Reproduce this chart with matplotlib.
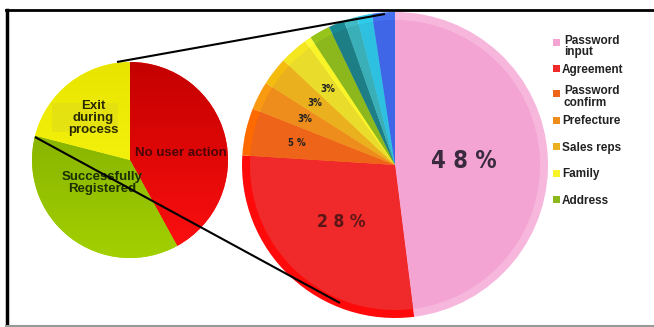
import numpy as np
import matplotlib
matplotlib.use("Agg")
import matplotlib.pyplot as plt
from matplotlib.colors import LinearSegmentedColormap
from matplotlib.patches import Rectangle

# Overall outcome of the registration flow
outcome_labels = ["No user action", "Successfully\nRegistered", "Exit\nduring\nprocess"]
outcome_values = [42, 37, 21]
outcome_top = ["#c40000", "#7aa400", "#e8e400"]
outcome_bottom = ["#ff1010", "#a2d000", "#ffff18"]

# Breakdown of the step where users exited
step_names = ["Password input", "Agreement", "Password confirm", "Prefecture",
              "Sales reps", "Family", "Other", "Address", "Phone", "Email",
              "Name", "Birthday"]
step_values = [48, 28, 5, 3, 3, 3, 0.7, 2.2, 1.7, 1.4, 1.6, 2.4]
step_labels = ["48%", "28%", "5%", "3%", "3%", "3%", "", "", "", "", "", ""]
step_colors = ["#f4a4d2", "#f02a2a", "#ee6418", "#ee8c1c", "#ebb01e",
               "#eadc2a", "#f8f428", "#8cb81e", "#1e7e86", "#3aafb8",
               "#2ec0e0", "#3f66e6"]
rim_colors = ["#f7b6dc", "#ff0a0a", "#ff6a00", "#f99a10", "#f5bc10",
              "#f4e620", "#fcfa30", "#96c41a", "#1a8a92", "#40bac4",
              "#30cbea", "#4470f0"]
legend_names = ["Password\ninput", "Agreement", "Password\nconfirm", "Prefecture",
                "Sales reps", "Family", "Address"]

W, H = 654, 327
fig = plt.figure(figsize=(W / 100, H / 100), dpi=100)
ax = fig.add_axes([0, 0, 1, 1])


def py(y):
    """Convert a top-down pixel row into the y-up data coordinate."""
    return H - y


# ---- small pie with gradient fills ----
sc = (130, py(160))
sr = 98
wedges, _ = ax.pie(outcome_values, startangle=90, counterclock=False,
                   center=sc, radius=sr, frame=True,
                   colors=outcome_bottom, wedgeprops=dict(linewidth=0))
grad = np.linspace(0, 1, 256).reshape(-1, 1)
for w, c0, c1 in zip(wedges, outcome_top, outcome_bottom):
    cmap = LinearSegmentedColormap.from_list("g", [c1, c0])
    im = ax.imshow(grad, cmap=cmap, aspect="auto", origin="lower",
                   extent=[sc[0] - sr, sc[0] + sr, sc[1] - sr, sc[1] + sr],
                   zorder=1.5)
    im.set_clip_path(w)

ax.add_patch(Rectangle((52, py(132)), 66, 29, facecolor="#dcd820", alpha=0.45,
                       linewidth=0, zorder=1.6))
txt_kw = dict(fontsize=9.5, fontweight="bold", family="Liberation Sans",
              linespacing=1.0, zorder=3)
ax.text(93, py(118), outcome_labels[2], ha="center", va="center",
        color="#2a2a00", **txt_kw)
ax.text(135, py(153), outcome_labels[0], ha="left", va="center",
        color="#4a0505", **txt_kw)
ax.text(102, py(183), outcome_labels[1], ha="center", va="center",
        color="#1c3000", **txt_kw)

# ---- large breakdown pie with a rim ----
bc = (395, py(165))
br = 153
ax.pie(step_values, startangle=90, counterclock=False, center=bc, radius=br,
       colors=rim_colors, frame=True, wedgeprops=dict(linewidth=0))
ax.pie(step_values, startangle=90, counterclock=False, center=bc, radius=br - 8,
       colors=step_colors, frame=True, wedgeprops=dict(linewidth=0))

total = sum(step_values)
cum = np.cumsum([0] + step_values[:-1])
label_style = {
    0: dict(r=0.45, size=17, color="#3a2a3e"),
    1: dict(r=0.51, size=12.5, color="#5a1616"),
}
for i, (v, lab) in enumerate(zip(step_values, step_labels)):
    if not lab:
        continue
    mid = np.deg2rad((cum[i] + v / 2) / total * 360)
    st = label_style.get(i, dict(r=0.66, size=7, color="#222222"))
    x = bc[0] + st["r"] * br * np.sin(mid)
    y = bc[1] + st["r"] * br * np.cos(mid)
    txt = " ".join(lab) if i < 3 else lab
    ax.text(x, y, txt, ha="center", va="center", fontsize=st["size"],
            fontweight="bold", color=st["color"], fontstretch="condensed",
            family="DejaVu Sans", zorder=4)

# ---- connector lines ----
ax.plot([117, 385], [py(62), py(14)], color="black", lw=1.5, zorder=5,
        solid_capstyle="butt")
ax.plot([35, 340], [py(137), py(303)], color="black", lw=1.5, zorder=5,
        solid_capstyle="butt")

# ---- legend (entries refer to slices of the large pie) ----
legend_slice = [0, 1, 2, 3, 4, 6, 7]
marker_y = [42.5, 68.5, 93.5, 120, 146.5, 173, 199]
for name, si, my in zip(legend_names, legend_slice, marker_y):
    ax.add_patch(Rectangle((553, py(my) - 3.5), 7, 7,
                           facecolor=step_colors[si], linewidth=0, zorder=3))
    if "\n" in name:
        ax.text(564, py(my) + 8, name, ha="left", va="top", fontsize=8.5,
                fontweight="bold", color="#222222", linespacing=1.0,
                family="Liberation Sans", zorder=3)
    else:
        ax.text(562, py(my) - 1.5, name, ha="left", va="center", fontsize=8.5,
                fontweight="bold", color="#222222",
                family="Liberation Sans", zorder=3)

# ---- frame ----
ax.plot([6, W], [py(10), py(10)], color="black", lw=2, zorder=6)
ax.plot([6.5, 6.5], [py(10), py(326)], color="black", lw=2.5, zorder=6)
ax.plot([6, W], [py(326), py(326)], color="#999999", lw=1.5, zorder=6)

ax.set_xlim(0, W)
ax.set_ylim(0, H)
ax.set_aspect("auto")
ax.axis("off")
fig.savefig("out.png", dpi=100, facecolor="white")
